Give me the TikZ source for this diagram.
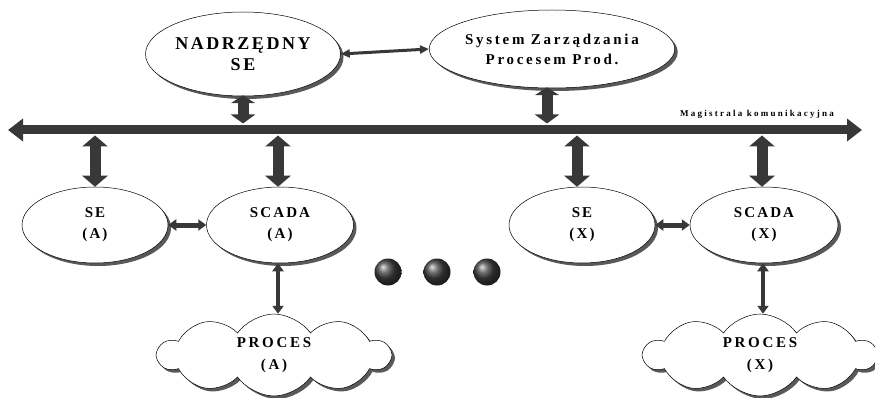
\documentclass[tikz,border=0pt]{standalone}
\usepackage{fontspec}
\setmainfont{Liberation Serif}
\newfontfamily\lsp[LetterSpace=14]{Liberation Serif}
\newfontfamily\lspwide[LetterSpace=18]{Liberation Serif}
\newfontfamily\lspsmall[LetterSpace=25]{Liberation Serif}
\usetikzlibrary{shapes.geometric,shapes.symbols,shadows,arrows.meta}
\definecolor{arr}{HTML}{383838}
\begin{document}
\begin{tikzpicture}[x=1pt,y=-1pt,
  shad/.style={drop shadow={shadow xshift=3pt,shadow yshift=-3pt,fill=black!65,opacity=1}},
  ell/.style={ellipse,draw,line width=0.5pt,fill=white,inner sep=0pt,shad,
    font=\lsp\bfseries\fontsize{15}{21}\selectfont,align=center},
  cld/.style={cloud,cloud puffs=10,cloud puff arc=110,aspect=2.8,draw,line width=0.5pt,
    fill=white,inner sep=0pt,shad,minimum width=232pt,minimum height=82pt,
    font=\lspwide\bfseries\fontsize{15}{22}\selectfont,align=center},
  bigarr/.style={draw=arr,line width=11pt,{Triangle[width=25pt,length=11pt]}-{Triangle[width=25pt,length=11pt]}},
  uparr/.style={draw=arr,line width=11pt,{Triangle[width=24pt,length=8pt]}-{Triangle[width=24pt,length=9pt]}},
  busarr/.style={draw=arr,line width=9pt,{Triangle[width=22pt,length=15pt]}-{Triangle[width=22pt,length=15pt]}},
  midarr/.style={draw=arr,line width=5pt,{Triangle[width=11pt,length=8pt]}-{Triangle[width=11pt,length=8pt]}},
  thinarr/.style={draw=arr,line width=3pt,{Triangle[width=8pt,length=9pt]}-{Triangle[width=8pt,length=9pt]}},
  ballnode/.style={circle,minimum size=27pt,inner sep=0pt,shading=ball,ball color=black!75}
]
\useasboundingbox (0,0) rectangle (875,398);

% top ellipses
\node[ell,minimum width=195pt,minimum height=84pt,font=\lsp\bfseries\fontsize{18}{21}\selectfont] (nad) at (243,54) {NADRZĘDNY\\SE};
\node[ell,minimum width=208pt,minimum height=78pt,font=\lspwide\bfseries\fontsize{15}{20}\selectfont] (sys) at (552,49) {System Zarządzania\\Procesem Prod.};

% bus
\coordinate (busL) at (8,130);
\coordinate (busR) at (862,130);
\draw[busarr] (busL) -- (busR);
\node[font=\lspsmall\bfseries\fontsize{9}{10}\selectfont,anchor=base] (mag) at (757,117) {Magistrala komunikacyjna};

% lower ellipses
\node[ell,minimum width=146pt,minimum height=76pt] (seA) at (95,225) {SE\\(A)};
\node[ell,minimum width=147pt,minimum height=76pt] (scA) at (280,225) {SCADA\\(A)};
\node[ell,minimum width=146pt,minimum height=76pt] (seX) at (582,225) {SE\\(X)};
\node[ell,minimum width=148pt,minimum height=76pt] (scX) at (764,225) {SCADA\\(X)};

% clouds
\node[cld] (prA) at (274,355) {PROCES\\(A)};
\node[cld] (prX) at (760,355) {PROCES\\(X)};

% dots
\node[ballnode] (d1) at (388,272) {};
\node[ballnode] (d2) at (437,272) {};
\node[ballnode] (d3) at (487,272) {};

% connectors
\draw[thinarr] (nad.east) -- (sys.west);
\draw[uparr,shorten >=6.5pt,shorten <=-1pt] (nad.south) -- (nad.south |- busL);
\draw[uparr,shorten >=6.5pt,shorten <=-1pt] ([xshift=-5pt]sys.south) -- ([xshift=-5pt]sys.south |- busL);
\draw[bigarr,shorten <=5.5pt] (seA.north |- busL) -- (seA.north);
\draw[bigarr,shorten <=5.5pt] ([xshift=-2pt]scA.north |- busL) -- ([xshift=-2pt]scA.north);
\draw[bigarr,shorten <=5.5pt] ([xshift=-5pt]seX.north |- busL) -- ([xshift=-5pt]seX.north);
\draw[bigarr,shorten <=5.5pt] ([xshift=-2pt]scX.north |- busL) -- ([xshift=-2pt]scX.north);
\draw[midarr] (seA.east) -- (scA.west);
\draw[midarr] (seX.east) -- (scX.west);
\draw[midarr,line width=4pt] ([xshift=-2pt]scA.south) -- ([xshift=-2pt]scA.south |- prA.north);
\draw[midarr,line width=4pt] ([xshift=-1pt]scX.south) -- ([xshift=-1pt]scX.south |- prX.north);
\end{tikzpicture}
\end{document}
